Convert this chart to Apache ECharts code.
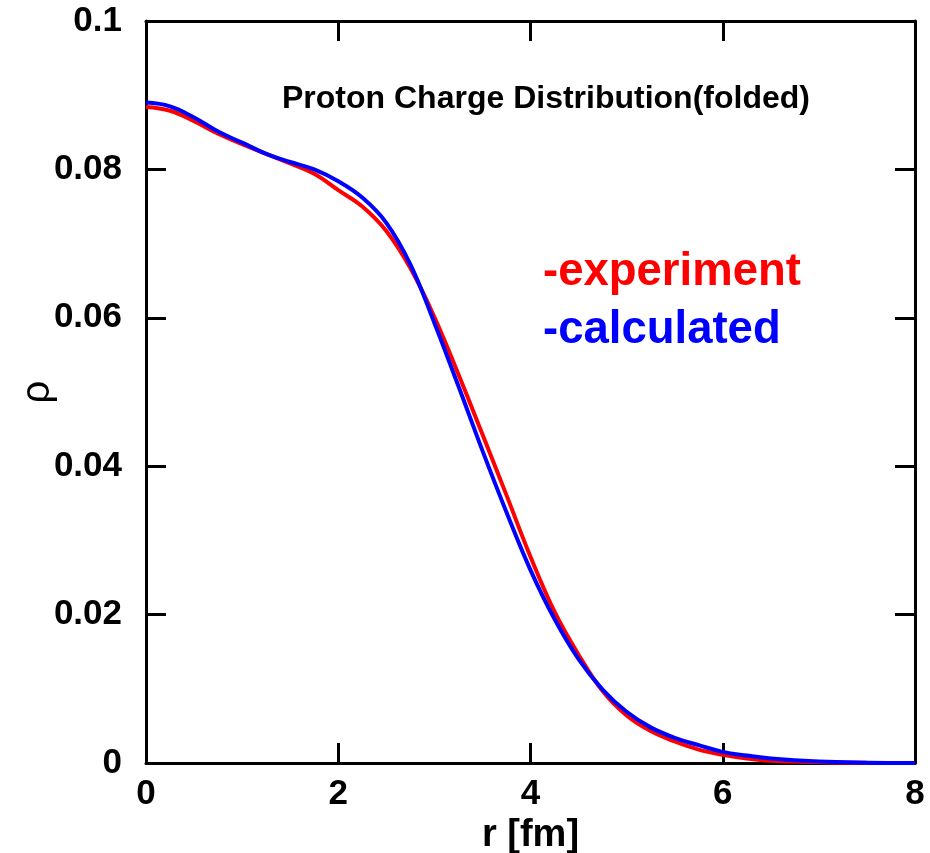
<!DOCTYPE html>
<html>
<head>
<meta charset="utf-8">
<script src="https://cdn.jsdelivr.net/npm/echarts@6/dist/echarts.min.js"></script>
<style>html,body{margin:0;padding:0;background:#fff}#c{width:930px;height:853px}</style>
</head>
<body>
<div id="c"></div>
<script>
var rValues = [0, 0.25, 0.5, 0.75, 1.0, 1.25, 1.5, 1.75, 2.0, 2.25, 2.5, 2.75, 3.0, 3.25, 3.5, 3.75, 4.0, 4.25, 4.5, 4.75, 5.0, 5.25, 5.5, 5.75, 6.0, 6.25, 6.5, 7.0, 7.5, 8.0];
var experiment = [0.0884, 0.0879, 0.0865, 0.0848, 0.0834, 0.0821, 0.0808, 0.0794, 0.0772, 0.0750, 0.0717, 0.0667, 0.0601, 0.0524, 0.0443, 0.0361, 0.0278, 0.0204, 0.0146, 0.0097, 0.0064, 0.0043, 0.0029, 0.0018, 0.0011, 0.0006, 0.0003, 0.0001, 0.00002, 0];
var calculated = [0.0890, 0.0885, 0.0870, 0.0851, 0.0836, 0.0821, 0.0810, 0.0800, 0.0784, 0.0762, 0.0728, 0.0672, 0.0593, 0.0508, 0.0421, 0.0338, 0.0260, 0.0194, 0.0140, 0.0099, 0.0069, 0.0048, 0.0034, 0.0024, 0.0015, 0.0010, 0.0006, 0.0002, 0.00005, 0.00001];
var xTicks = [0, 2, 4, 6, 8];
var yTicks = [0, 0.02, 0.04, 0.06, 0.08, 0.1];
var titleText = 'Proton Charge Distribution(folded)';
var legendLabels = ['-experiment', '-calculated'];

function pairs(xs, ys) { return xs.map(function (x, i) { return [x, ys[i]]; }); }

var FONT = '"Liberation Sans", Arial, Helvetica, sans-serif';
var axisLine = { show: true, onZero: false, lineStyle: { color: '#000', width: 3 } };
var axisTick = { show: true, inside: true, length: 20, lineStyle: { color: '#000', width: 3 } };

var chart = echarts.init(document.getElementById('c'), null, { renderer: 'canvas' });
chart.setOption({
  animation: false,
  backgroundColor: '#fff',
  grid: { left: 146, top: 21, right: 15, bottom: 90, containLabel: false, outerBoundsMode: 'none' },
  xAxis: [{
    type: 'value', min: 0, max: 8, interval: 2, position: 'bottom',
    name: 'r [fm]', nameLocation: 'middle', nameGap: 51,
    nameTextStyle: { fontFamily: FONT, fontWeight: 'bold', fontSize: 38, color: '#000' },
    axisLine: axisLine, axisTick: axisTick, splitLine: { show: false },
    axisLabel: { margin: 14, fontFamily: FONT, fontWeight: 'bold', fontSize: 35, color: '#000',
      formatter: function (v) { return xTicks.indexOf(v) >= 0 ? String(v) : ''; } }
  }, {
    type: 'value', min: 0, max: 8, interval: 2, position: 'top',
    axisLine: axisLine, axisTick: axisTick, splitLine: { show: false }, axisLabel: { show: false }
  }],
  yAxis: [{
    type: 'value', min: 0, max: 0.1, interval: 0.02, position: 'left',
    name: 'ρ', nameLocation: 'middle', nameGap: 88, nameRotate: 90, nameMoveOverlap: false,
    nameTextStyle: { fontFamily: FONT, fontSize: 40, color: '#000' },
    axisLine: axisLine, axisTick: axisTick, splitLine: { show: false },
    axisLabel: { margin: 24, fontFamily: FONT, fontWeight: 'bold', fontSize: 35, color: '#000',
      formatter: function (v) {
        var r = Math.round(v * 100) / 100;
        if (r === 0) return '0';
        if (r === 0.1) return '0.1';
        return r.toFixed(2);
      } }
  }, {
    type: 'value', min: 0, max: 0.1, interval: 0.02, position: 'right',
    axisLine: axisLine, axisTick: axisTick, splitLine: { show: false }, axisLabel: { show: false }
  }],
  graphic: [
    { type: 'text', left: 282, top: 83, style: { text: titleText, fontFamily: FONT, fontWeight: 'bold', fontSize: 32, fill: '#000' } },
    { type: 'text', left: 543, top: 249, style: { text: legendLabels[0], fontFamily: FONT, fontWeight: 'bold', fontSize: 45.5, fill: '#ff0000' } },
    { type: 'text', left: 543, top: 307, style: { text: legendLabels[1], fontFamily: FONT, fontWeight: 'bold', fontSize: 45.5, fill: '#0000ff' } }
  ],
  series: [{
    name: 'experiment', type: 'line', smooth: 0.4, showSymbol: false, clip: true,
    data: pairs(rValues, experiment), lineStyle: { color: '#ff0000', width: 4 }, itemStyle: { color: '#ff0000' }
  }, {
    name: 'calculated', type: 'line', smooth: 0.4, showSymbol: false, clip: true,
    data: pairs(rValues, calculated), lineStyle: { color: '#0000ff', width: 4 }, itemStyle: { color: '#0000ff' }
  }]
});
</script>
</body>
</html>
